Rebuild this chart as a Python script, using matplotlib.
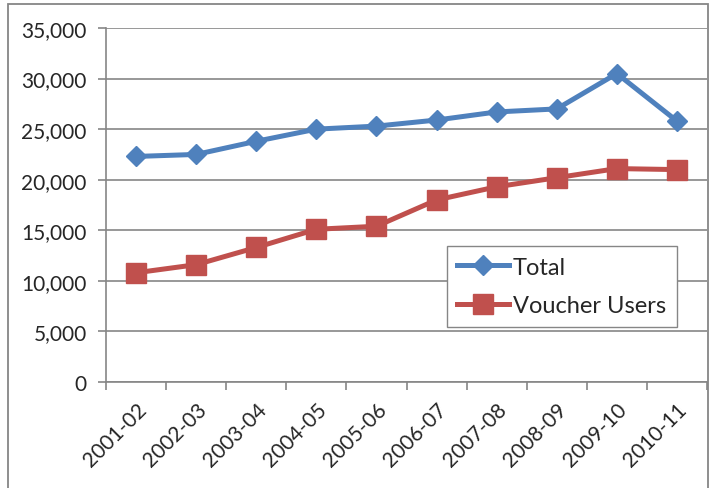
import matplotlib.pyplot as plt
from matplotlib.patches import Rectangle
from matplotlib.ticker import FuncFormatter

plt.rcParams['font.family'] = ['Lato', 'DejaVu Sans']

years = ['2001-02', '2002-03', '2003-04', '2004-05', '2005-06',
         '2006-07', '2007-08', '2008-09', '2009-10', '2010-11']
total = [22300, 22500, 23800, 25000, 25300, 25900, 26700, 27000, 30500, 25800]
voucher = [10800, 11600, 13300, 15100, 15400, 18000, 19300, 20200, 21100, 21000]

blue = '#4F81BD'
red = '#C0504D'
grey = '#868686'
txt = '#262626'

fig = plt.figure(figsize=(7.15, 4.89), dpi=100)
ax = fig.add_axes([106 / 715, 1 - 383 / 489, 601 / 715, 354 / 489])

# outer chart border
fig.patches.append(Rectangle((8 / 715, -0.05), 700 / 715, 1 - 5 / 489 + 0.05,
                             transform=fig.transFigure, fill=False,
                             edgecolor=grey, linewidth=1.3))

x = [i + 0.5 for i in range(len(years))]
ax.plot(x, total, color=blue, linewidth=3.6, marker='D', markersize=10.5,
        label='Total', zorder=3)
ax.plot(x, voucher, color=red, linewidth=3.6, marker='s', markersize=14,
        label='Voucher Users', zorder=3)

ax.set_xlim(0, len(years))
ax.set_ylim(0, 35000)
ax.set_yticks(range(0, 35001, 5000))
ax.yaxis.set_major_formatter(FuncFormatter(lambda v, p: f'{int(v):,}'))
ax.grid(axis='y', color=grey, linewidth=1.2)
ax.set_axisbelow(True)

ax.set_xticks(range(len(years) + 1))
ax.set_xticklabels([])
ax.set_xticks(x, minor=True)
ax.set_xticklabels(years, minor=True, rotation=45, ha='right',
                   rotation_mode='anchor', fontsize=15, color=txt)
ax.tick_params(axis='x', which='minor', length=0, pad=12)
ax.tick_params(axis='x', which='major', length=6, color=grey, width=1.2)
ax.tick_params(axis='y', length=6, color=grey, width=1.2, labelsize=15,
               labelcolor=txt, pad=8)

for s in ['top', 'right']:
    ax.spines[s].set_visible(False)
for s in ['left', 'bottom']:
    ax.spines[s].set_color(grey)
    ax.spines[s].set_linewidth(1.2)

leg = ax.legend(loc='upper left', bbox_to_anchor=(0.567, 0.384),
                borderaxespad=0, fancybox=False, framealpha=1,
                edgecolor=grey, fontsize=17, handlelength=2.2,
                handletextpad=0.15, borderpad=0.45, labelspacing=0.75)
for t in leg.get_texts():
    t.set_color(txt)

fig.savefig('out.png', dpi=100)
